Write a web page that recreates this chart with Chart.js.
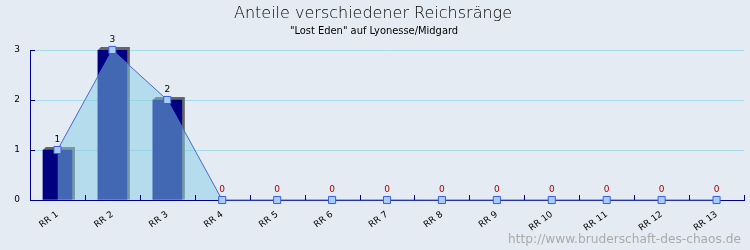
<!DOCTYPE html>
<html>
<head>
<meta charset="utf-8">
<script src="https://cdn.jsdelivr.net/npm/chart.js@4/dist/chart.umd.min.js"></script>
<style>
  html, body { margin: 0; padding: 0; background: #e4ebf2; }
  #wrap { width: 750px; height: 250px; position: relative; }
</style>
</head>
<body>
<div id="wrap"><canvas id="c" width="750" height="250"></canvas></div>
<script>
// Reichsränge and how many members hold each
const categories = ['RR 1', 'RR 2', 'RR 3', 'RR 4', 'RR 5', 'RR 6', 'RR 7', 'RR 8', 'RR 9', 'RR 10', 'RR 11', 'RR 12', 'RR 13'];
const counts = [1, 3, 2, 0, 0, 0, 0, 0, 0, 0, 0, 0, 0];
const yTicks = [0, 1, 2, 3];

const titleText = 'Anteile verschiedener Reichsränge';
const subtitleText = '"Lost Eden" auf Lyonesse/Midgard';
const footerText = 'http://www.bruderschaft-des-chaos.de';

const DEPTH = 3;
const AXIS = '#000088';

// Background, titles and footer text
const decor = {
  id: 'decor',
  beforeDraw(chart) {
    const ctx = chart.ctx;
    ctx.save();
    ctx.fillStyle = '#e4ebf2';
    ctx.fillRect(0, 0, chart.width, chart.height);
    ctx.restore();
  },
  afterDraw(chart) {
    const ctx = chart.ctx;
    ctx.save();
    ctx.textAlign = 'center';
    ctx.textBaseline = 'alphabetic';
    ctx.fillStyle = '#000000';
    ctx.font = '200 16px "DejaVu Sans"';
    ctx.fillText(titleText, 373, 18);
    ctx.font = '11px "DejaVu Sans Condensed", "DejaVu Sans"';
    ctx.fillText(subtitleText, 374, 34);
    ctx.textAlign = 'right';
    ctx.fillStyle = '#aaaaaa';
    ctx.font = '12.2px "DejaVu Sans"';
    ctx.fillText(footerText, 741, 243);
    ctx.restore();
  }
};

// 3D depth behind each bar, axis ticks drawn inward, value labels
const depth = {
  id: 'depth',
  beforeDatasetsDraw(chart) {
    const ctx = chart.ctx;
    const meta = chart.getDatasetMeta(0);
    ctx.save();
    ctx.fillStyle = '#666666';
    meta.data.forEach(bar => {
      const p = bar.getProps(['x', 'y', 'base', 'width'], true);
      if (Math.abs(p.base - p.y) < 0.5) return;
      const l = p.x - p.width / 2, r = p.x + p.width / 2;
      ctx.beginPath();
      ctx.moveTo(l, p.y);
      ctx.lineTo(l + DEPTH, p.y - DEPTH);
      ctx.lineTo(r + DEPTH, p.y - DEPTH);
      ctx.lineTo(r + DEPTH, p.base);
      ctx.lineTo(r, p.base);
      ctx.lineTo(r, p.y);
      ctx.closePath();
      ctx.fill();
    });
    ctx.restore();
  },
  afterDatasetsDraw(chart) {
    const ctx = chart.ctx;
    const x = chart.scales.x, y = chart.scales.y;
    ctx.save();
    ctx.strokeStyle = AXIS;
    ctx.lineWidth = 1;
    ctx.beginPath();
    yTicks.forEach(v => {
      const py = Math.round(y.getPixelForValue(v)) + 0.5;
      ctx.moveTo(x.left, py);
      ctx.lineTo(x.left + 5, py);
    });
    const step = (x.right - x.left) / categories.length;
    for (let i = 0; i <= categories.length; i++) {
      const px = Math.round(x.left + i * step) + 0.5;
      ctx.moveTo(px, y.bottom);
      ctx.lineTo(px, y.bottom - 5);
    }
    ctx.stroke();
    const meta = chart.getDatasetMeta(1);
    ctx.font = '9px "DejaVu Sans"';
    ctx.textAlign = 'center';
    ctx.textBaseline = 'alphabetic';
    meta.data.forEach((pt, i) => {
      const v = counts[i];
      ctx.fillStyle = v === 0 ? '#aa0000' : '#000000';
      ctx.fillText(String(v), pt.x, pt.y - 8);
    });
    ctx.restore();
  }
};

new Chart(document.getElementById('c'), {
  data: {
    labels: categories,
    datasets: [
      {
        type: 'bar',
        data: counts,
        backgroundColor: ctx => (ctx.raw ? '#000080' : 'rgba(0,0,0,0)'),
        borderWidth: 0,
        barThickness: 29,
        order: 2
      },
      {
        type: 'line',
        data: counts,
        borderColor: '#4a68d0',
        borderWidth: 1,
        tension: 0,
        fill: 'origin',
        backgroundColor: 'rgba(132, 205, 230, 0.5)',
        pointStyle: 'rect',
        pointRadius: 5,
        pointBackgroundColor: '#a9cdf2',
        pointBorderColor: '#3a5ee0',
        pointBorderWidth: 1,
        clip: false,
        order: 1
      }
    ]
  },
  options: {
    responsive: false,
    animation: false,
    devicePixelRatio: 1,
    layout: { padding: { top: 50, right: 5, left: 0, bottom: 0 } },
    plugins: {
      legend: { display: false },
      tooltip: { enabled: false }
    },
    scales: {
      x: {
        offset: true,
        grid: { display: false, drawTicks: false },
        border: { color: AXIS, width: 1 },
        ticks: {
          color: '#000000',
          font: { family: 'DejaVu Sans', size: 9 },
          minRotation: 36,
          maxRotation: 36,
          padding: 9,
          autoSkip: false
        },
        afterFit(scale) { scale.height = 50; }
      },
      y: {
        min: 0,
        max: 3,
        grid: { color: '#a6dcea', drawTicks: false },
        border: { color: AXIS, width: 1 },
        ticks: {
          stepSize: 1,
          color: '#000000',
          font: { family: 'DejaVu Sans', size: 9 },
          padding: 10
        },
        afterFit(scale) { scale.width = 30; }
      }
    }
  },
  plugins: [decor, depth]
});
</script>
</body>
</html>
